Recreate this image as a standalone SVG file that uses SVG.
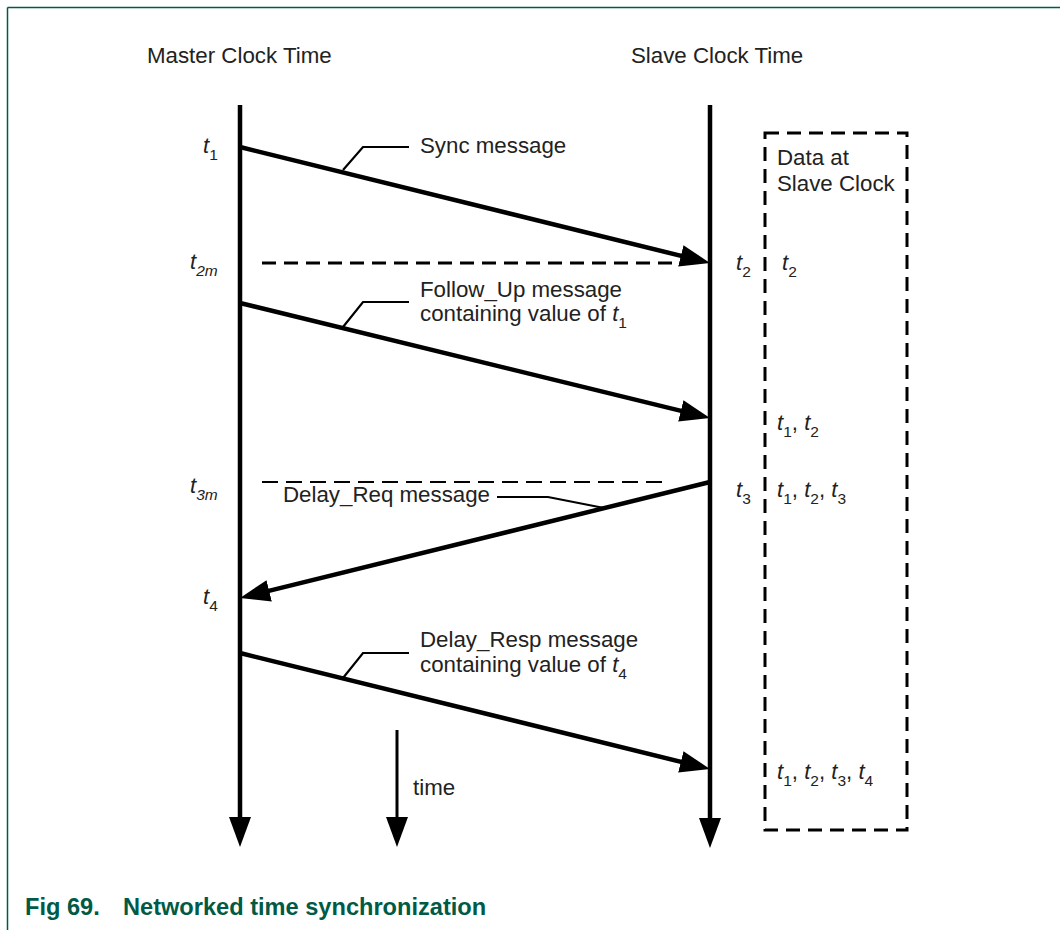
<svg xmlns="http://www.w3.org/2000/svg" width="1060" height="930" viewBox="0 0 1060 930">
<style>
.lbl{font-family:"Liberation Sans",Arial,sans-serif;font-size:22.3px;fill:#222}
.it{font-family:"Liberation Sans",Arial,sans-serif;font-style:italic;font-size:22px;fill:#222}
.sub{font-family:"Liberation Sans",Arial,sans-serif;font-size:15.5px;fill:#222}
.subi{font-family:"Liberation Sans",Arial,sans-serif;font-style:italic;font-size:15.5px;fill:#222}
.axis{stroke:#000;stroke-width:4.5;fill:none}
.msg{stroke:#000;stroke-width:4.5;fill:none;marker-end:url(#ah)}
.lead{stroke:#000;stroke-width:2.2;fill:none}
.cap{font-family:"Liberation Sans",Arial,sans-serif;font-weight:bold;font-size:23.6px;fill:#005a45}
</style>
<defs>
<marker id="ah" markerUnits="userSpaceOnUse" markerWidth="32" markerHeight="24" viewBox="0 -12 32 24" refX="15" refY="0" orient="auto">
<path d="M0,-11 L30,0 L0,11 z" fill="#000"/>
</marker>
</defs>
<rect x="0" y="0" width="1060" height="930" fill="#fff"/>
<g id="frame">
<line x1="7.5" y1="7.5" x2="1060" y2="7.5" stroke="#005a45" stroke-width="1.5"/>
<line x1="7.5" y1="7.5" x2="7.5" y2="930" stroke="#005a45" stroke-width="1.5"/>
</g>
<g id="master-axis">
<text class="lbl" x="147" y="63">Master Clock Time</text>
<path class="axis" d="M240,105 V832" marker-end="url(#ah)"/>
</g>
<g id="slave-axis">
<text class="lbl" x="631" y="63">Slave Clock Time</text>
<path class="axis" d="M710,105 V833" marker-end="url(#ah)"/>
</g>
<g id="time-arrow">
<path d="M397,730 V832" stroke="#000" stroke-width="3" fill="none" marker-end="url(#ah)"/>
<text class="lbl" x="413" y="795">time</text>
</g>
<g id="data-box">
<rect x="765" y="133" width="142" height="697" fill="none" stroke="#000" stroke-width="3" stroke-dasharray="14,8"/>
<text class="lbl" x="777" y="165">Data at</text>
<text class="lbl" x="777" y="191">Slave Clock</text>
<text x="782" y="270"><tspan class="it">t</tspan><tspan class="sub" dy="7">2</tspan></text>
<text x="777" y="430"><tspan class="it">t</tspan><tspan class="sub" dy="7">1</tspan><tspan class="lbl" dy="-7">, </tspan><tspan class="it">t</tspan><tspan class="sub" dy="7">2</tspan></text>
<text x="777" y="497"><tspan class="it">t</tspan><tspan class="sub" dy="7">1</tspan><tspan class="lbl" dy="-7">, </tspan><tspan class="it">t</tspan><tspan class="sub" dy="7">2</tspan><tspan class="lbl" dy="-7">, </tspan><tspan class="it">t</tspan><tspan class="sub" dy="7">3</tspan></text>
<text x="777" y="779"><tspan class="it">t</tspan><tspan class="sub" dy="7">1</tspan><tspan class="lbl" dy="-7">, </tspan><tspan class="it">t</tspan><tspan class="sub" dy="7">2</tspan><tspan class="lbl" dy="-7">, </tspan><tspan class="it">t</tspan><tspan class="sub" dy="7">3</tspan><tspan class="lbl" dy="-7">, </tspan><tspan class="it">t</tspan><tspan class="sub" dy="7">4</tspan></text>
</g>
<g id="time-labels">
<text x="203" y="153"><tspan class="it">t</tspan><tspan class="sub" dy="7">1</tspan></text>
<text x="190" y="269"><tspan class="it">t</tspan><tspan class="subi" dy="7">2m</tspan></text>
<text x="736" y="270"><tspan class="it">t</tspan><tspan class="sub" dy="7">2</tspan></text>
<text x="190" y="493"><tspan class="it">t</tspan><tspan class="subi" dy="7">3m</tspan></text>
<text x="736" y="497"><tspan class="it">t</tspan><tspan class="sub" dy="7">3</tspan></text>
<text x="203" y="604"><tspan class="it">t</tspan><tspan class="sub" dy="7">4</tspan></text>
</g>
<g id="connectors">
<path id="sync" class="msg" d="M240,147 L695.4,259.4"/>
<path class="lead" d="M343,170 L363,147 H409"/>
<line x1="262" y1="263" x2="692" y2="263" stroke="#000" stroke-width="3" stroke-dasharray="14,8"/>
<path id="followup" class="msg" d="M240,303 L695.4,414.4"/>
<path class="lead" d="M343,327 L363,302 H409"/>
<line x1="262" y1="482" x2="668" y2="482" stroke="#000" stroke-width="2" stroke-dasharray="16,8"/>
<path id="delayreq" class="msg" d="M710,482 L254.6,594.4"/>
<path class="lead" d="M497,497 H548 L604,508"/>
<path id="delayresp" class="msg" d="M240,653 L695.4,765.4"/>
<path class="lead" d="M343,678 L363,653 H409"/>
</g>
<g id="msg-labels">
<text class="lbl" x="420" y="153">Sync message</text>
<text class="lbl" x="420" y="297">Follow_Up message</text>
<text x="420" y="321"><tspan class="lbl">containing value of </tspan><tspan class="it">t</tspan><tspan class="sub" dy="7">1</tspan></text>
<text class="lbl" x="283" y="502">Delay_Req message</text>
<text class="lbl" x="420" y="647">Delay_Resp message</text>
<text x="420" y="672"><tspan class="lbl">containing value of </tspan><tspan class="it">t</tspan><tspan class="sub" dy="7">4</tspan></text>
</g>
<g id="caption">
<text class="cap" x="25" y="915">Fig 69.</text>
<text class="cap" x="123" y="915">Networked time synchronization</text>
</g>
</svg>
